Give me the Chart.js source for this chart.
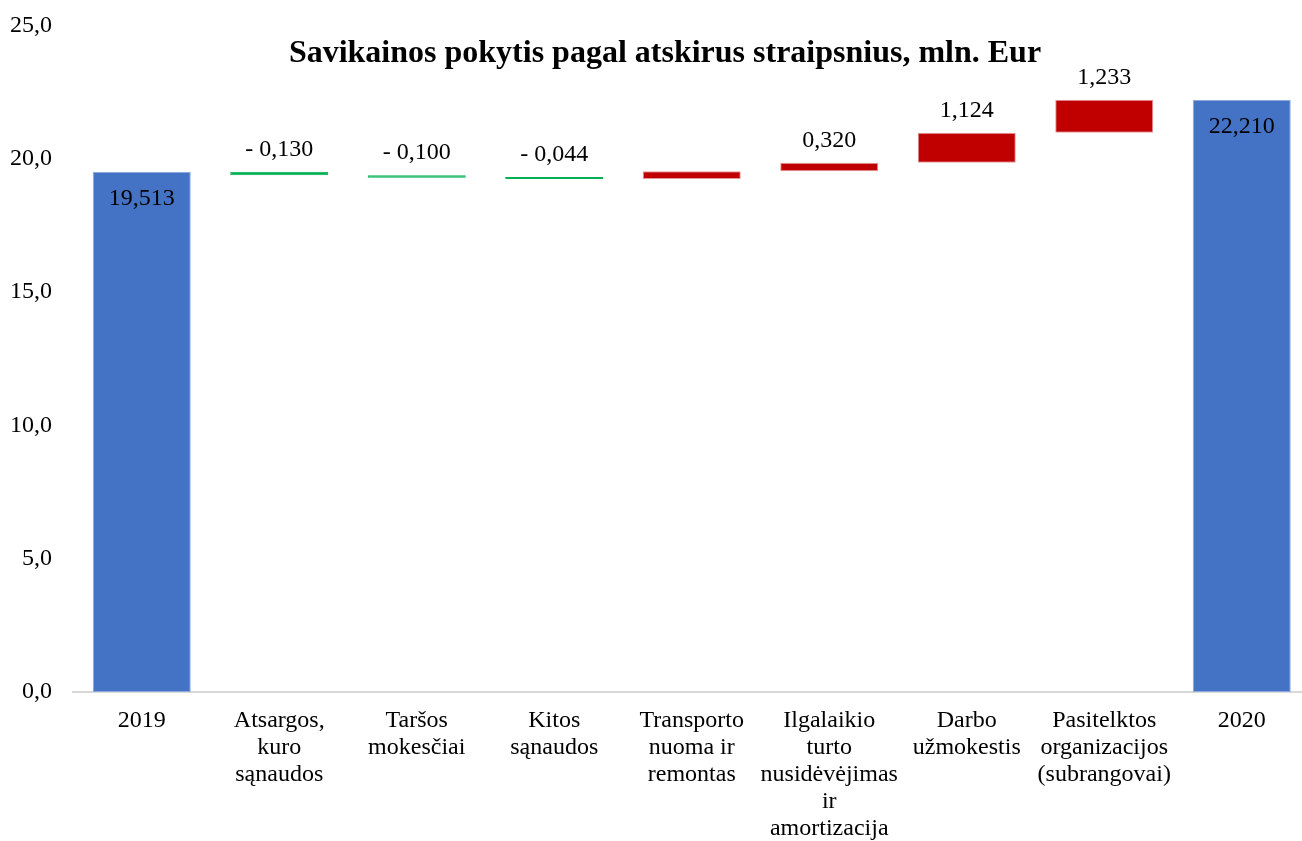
<!DOCTYPE html>
<html>
<head>
<meta charset="utf-8">
<script src="https://cdn.jsdelivr.net/npm/chart.js@4.4.1/dist/chart.umd.min.js"></script>
<style>
  html, body { margin: 0; padding: 0; background: #fff; overflow: hidden; }
  #wrap { position: relative; width: 1302px; height: 841px; overflow: hidden; }
  #c { position: absolute; left: 0; top: -10px; }
</style>
</head>
<body>
<div id="wrap"><canvas id="c" width="1320" height="851"></canvas></div>
<script>
// ---- data ----
const categories = [
  ['2019'],
  ['Atsargos,', 'kuro', 'sąnaudos'],
  ['Taršos', 'mokesčiai'],
  ['Kitos', 'sąnaudos'],
  ['Transporto', 'nuoma ir', 'remontas'],
  ['Ilgalaikio', 'turto', 'nusidėvėjimas', 'ir', 'amortizacija'],
  ['Darbo', 'užmokestis'],
  ['Pasitelktos', 'organizacijos', '(subrangovai)'],
  ['2020']
];
const startTotal = 19.513;
const changes = [-0.130, -0.100, -0.044, 0.294, 0.320, 1.124, 1.233];
const showChangeLabel = [true, true, true, false, true, true, true];
const endTotal = 22.210;
const yTicks = [0, 5, 10, 15, 20, 25];
const chartTitle = 'Savikainos pokytis pagal atskirus straipsnius, mln. Eur';

// ---- build floating bars ----
const ranges = [[0, startTotal]];
const kinds = ['total'];
const values = [startTotal];
const showLabel = [true];
let run = startTotal;
changes.forEach((d, i) => {
  ranges.push([run, run + d]);
  kinds.push(d < 0 ? 'down' : 'up');
  values.push(d);
  showLabel.push(showChangeLabel[i]);
  run += d;
});
ranges.push([0, endTotal]);
kinds.push('total');
values.push(endTotal);
showLabel.push(true);

const fill = { total: '#4472C4', down: '#00B050', up: '#C00000' };
const edge = { total: '#8EA9DB', down: '#00B050', up: '#E39A9A' };

function fmt(v) {
  const s = Math.abs(v).toFixed(3).replace('.', ',');
  return v < 0 ? '- ' + s : s;
}

const FONT = "'Liberation Serif', 'Times New Roman', serif";

const labelPlugin = {
  id: 'barLabels',
  afterDatasetsDraw(chart) {
    const ctx = chart.ctx;
    const meta = chart.getDatasetMeta(0);
    ctx.save();
    ctx.font = '24px ' + FONT;
    ctx.fillStyle = '#000';
    ctx.textAlign = 'center';
    ctx.textBaseline = 'middle';
    meta.data.forEach((el, i) => {
      if (!showLabel[i]) return;
      const top = Math.min(el.y, el.base);
      if (kinds[i] === 'total') {
        ctx.fillText(fmt(values[i]), el.x, top + 27);
      } else {
        ctx.fillText(fmt(values[i]), el.x, top - 22);
      }
    });
    ctx.restore();
  }
};

const titlePlugin = {
  id: 'overlayTitle',
  afterDraw(chart) {
    const ctx = chart.ctx;
    ctx.save();
    ctx.font = 'bold 32px ' + FONT;
    ctx.fillStyle = '#000';
    ctx.textAlign = 'center';
    ctx.textBaseline = 'alphabetic';
    ctx.fillText(chartTitle, 665, 72);
    ctx.restore();
  }
};

new Chart(document.getElementById('c'), {
  type: 'bar',
  data: {
    labels: categories,
    datasets: [{
      data: ranges,
      backgroundColor: kinds.map(k => fill[k]),
      borderColor: kinds.map(k => edge[k]),
      borderWidth: 1,
      borderSkipped: false,
      minBarLength: 2,
      barPercentage: 0.713,
      categoryPercentage: 1.0
    }]
  },
  options: {
    responsive: false,
    animation: false,
    layout: { padding: { left: 0, right: 9.5, top: 0, bottom: 0 } },
    plugins: {
      legend: { display: false },
      title: { display: false },
      tooltip: { enabled: false }
    },
    scales: {
      x: {
        grid: { display: false, drawTicks: false },
        border: { display: true, color: '#D9D9D9', width: 2 },
        ticks: {
          color: '#000',
          font: { family: FONT, size: 24, lineHeight: 1.13 },
          padding: 15,
          maxRotation: 0,
          autoSkip: false
        },
        afterFit(scale) { scale.height = 149; }
      },
      y: {
        min: yTicks[0],
        max: yTicks[yTicks.length - 1],
        grid: { display: false, drawTicks: false },
        border: { display: false },
        afterBuildTicks(scale) { scale.ticks = yTicks.map(v => ({ value: v })); },
        ticks: {
          color: '#000',
          font: { family: FONT, size: 24 },
          padding: 21,
          callback: v => Number(v).toFixed(1).replace('.', ',')
        },
        afterFit(scale) { scale.width = 73; }
      }
    }
  },
  plugins: [labelPlugin, titlePlugin]
});
</script>
</body>
</html>
